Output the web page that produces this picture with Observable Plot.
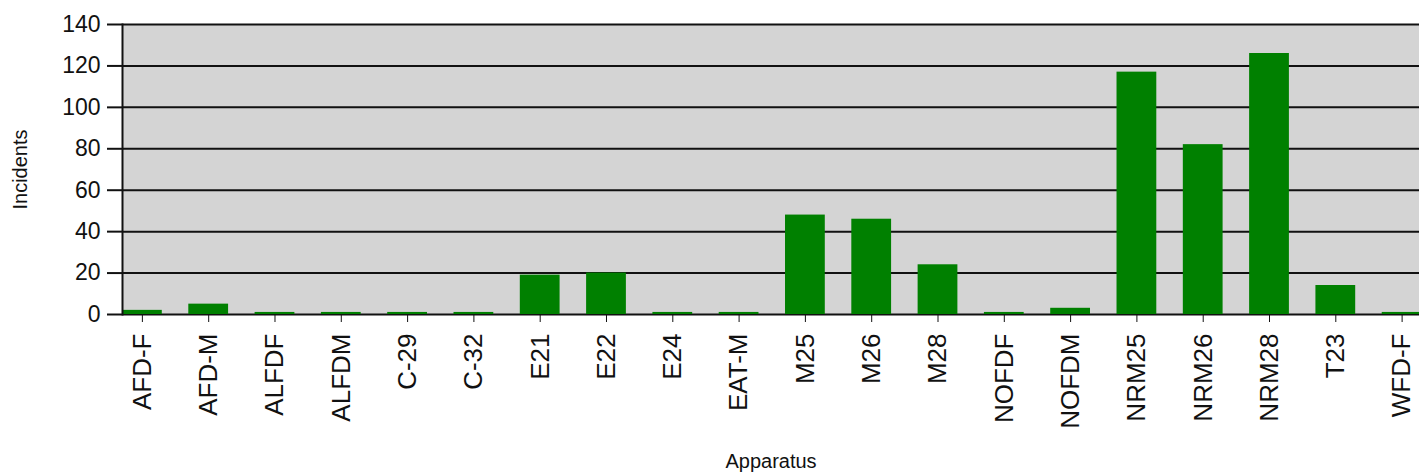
<!DOCTYPE html>
<html>
<head>
<meta charset="utf-8">
<script src="https://cdn.jsdelivr.net/npm/d3@7"></script>
<script src="https://cdn.jsdelivr.net/npm/@observablehq/plot@0.6"></script>
<style>
  html, body { margin: 0; padding: 0; background: #fff; }
  #chart svg { display: block; }
  g[aria-label="y-axis label"] text, g[aria-label="x-axis label"] text { font-size: 20px; }
</style>
</head>
<body>
<div id="chart"></div>
<script>
const apparatus = ["AFD-F","AFD-M","ALFDF","ALFDM","C-29","C-32","E21","E22","E24","EAT-M","M25","M26","M28","NOFDF","NOFDM","NRM25","NRM26","NRM28","T23","WFD-F"];
const incidents = [2,5,1,1,1,1,19,20,1,1,48,46,24,1,3,117,82,126,14,1];
const yTicks = [0,20,40,60,80,100,120,140];

const data = apparatus.map((a, i) => ({apparatus: a, incidents: incidents[i]}));

const plot = Plot.plot({
  width: 1419,
  height: 473,
  marginLeft: 122,
  marginRight: 0,
  marginTop: 24,
  marginBottom: 159,
  style: {fontFamily: "'Liberation Sans', Arial, sans-serif", color: "#111", background: "#fff"},
  x: {domain: apparatus, range: [122, 1421.5], paddingInner: 0.4, paddingOuter: 0, round: false},
  y: {domain: [0, 140]},
  marks: [
    Plot.frame({fill: "#d4d4d4", stroke: null}),
    Plot.ruleY(yTicks, {stroke: "#111", strokeWidth: 2}),
    Plot.barY(data, {x: "apparatus", y: "incidents", fill: "#008000"}),
    Plot.frame({anchor: "left", stroke: "#111", strokeWidth: 2}),
    Plot.axisY({ticks: yTicks, tickSize: 15, tickPadding: 7, fontSize: 23, label: "Incidents", labelAnchor: "center", labelOffset: 110, labelArrow: "none", stroke: "#111", strokeWidth: 2}),
    Plot.axisX({tickSize: 8, tickPadding: 11, tickRotate: -90, fontSize: 26, label: "Apparatus", labelAnchor: "center", labelOffset: 153, labelArrow: "none", stroke: "#111"})
  ]
});
document.getElementById("chart").appendChild(plot);
</script>
</body>
</html>
